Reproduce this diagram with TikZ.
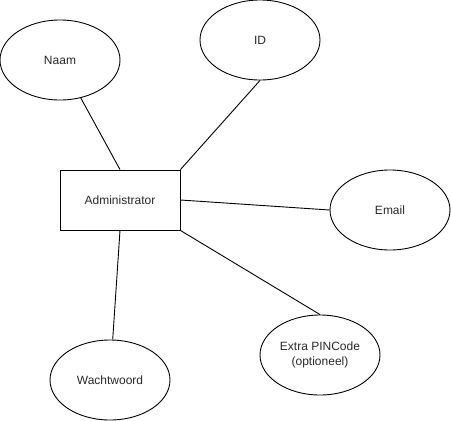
\documentclass[tikz,border=0pt]{standalone}
\usepackage{fontspec}
\setmainfont{Liberation Sans}
\usepackage{tikz}
\usetikzlibrary{shapes,positioning}
\definecolor{erdtext}{RGB}{40,40,40}
\tikzstyle{entity} = [draw, rectangle, minimum width=120pt, minimum height=60pt, inner sep=0pt, line width=0.9pt, text=erdtext]
\tikzstyle{attr} = [draw, ellipse, minimum width=120pt, minimum height=80pt, inner sep=0pt, line width=0.9pt, text=erdtext, align=center]
\tikzstyle{link} = [line width=0.9pt]

\begin{document}
\begin{tikzpicture}[x=1pt, y=-1pt, font=\fontsize{12}{15}\selectfont]
    \useasboundingbox (0,0) rectangle (451,421);

    % Entity
    \node[entity] (admin) at (120, 200) {Administrator};

    % Attributes
    \node[attr] (naam) at (60, 60) {Naam};
    \node[attr] (id) at (260, 40) {ID};
    \node[attr] (email) at (390, 210) {Email};
    \node[attr] (pin) at (320, 355) {Extra PINCode\\(optioneel)};
    \node[attr] (wachtwoord) at (110, 380) {Wachtwoord};

    % Links
    \draw[link] (naam) -- (admin.north);
    \draw[link] (id.south) -- (admin.north east);
    \draw[link] (email.west) -- (admin.east);
    \draw[link] (pin.north) -- (admin.south east);
    \draw[link] (wachtwoord) -- (admin.south);
\end{tikzpicture}
\end{document}
